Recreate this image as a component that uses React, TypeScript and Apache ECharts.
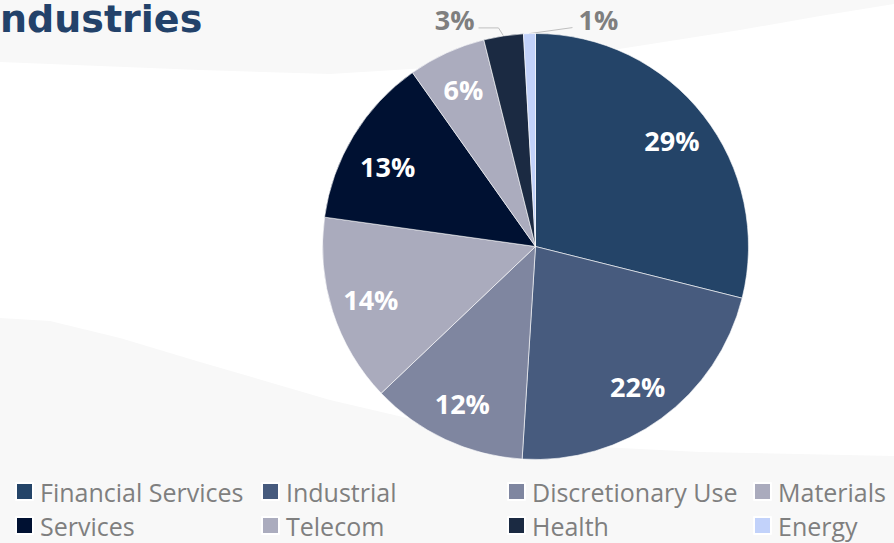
import React, { useEffect, useRef } from "react";
import * as echarts from "echarts";

const titleText = "ndustries";
const categories = [
  "Financial Services",
  "Industrial",
  "Discretionary Use",
  "Materials",
  "Services",
  "Telecom",
  "Health",
  "Energy",
];
const shares = [28.9, 22.1, 11.9, 14.3, 13.0, 5.9, 3.0, 0.9];
const sliceColors = [
  "#244468",
  "#475B7E",
  "#7F86A0",
  "#AAABBD",
  "#001132",
  "#ABACBE",
  "#1B2A42",
  "#C2D2FA",
];
const outsideLabelIdx = [6, 7];
const legendColumns = [
  [0, 4],
  [1, 5],
  [2, 6],
  [3, 7],
];

export default function App() {
  const ref = useRef<HTMLDivElement>(null);
  useEffect(() => {
    if (!ref.current) return;
    const chart = echarts.init(ref.current, undefined, { renderer: "svg" });
    const cx = 535.5;
    const cy = 246.5;
    const R = 213;

    const mainData = categories.map((name, i) => {
      const outside = outsideLabelIdx.includes(i);
      return {
        name,
        value: shares[i],
        itemStyle: { color: sliceColors[i] },
        label: { show: outside },
        labelLine: { show: outside },
      };
    });
    const overlayData = categories.map((name, i) => ({
      name,
      value: shares[i],
      label: { show: !outsideLabelIdx.includes(i) },
    }));

    const legendCols = [15, 261, 507, 753];

    chart.setOption({
      animation: false,
      backgroundColor: "#ffffff",
      title: {
        text: titleText,
        left: 0,
        top: 0,
        padding: 0,
        textStyle: {
          fontFamily: "DejaVu Sans",
          fontWeight: "bold",
          fontSize: 38,
          color: "#23426A",
        },
      },
      graphic: [
        {
          type: "polygon",
          z: -10,
          silent: true,
          shape: {
            points: [
              [0, 0],
              [894, 0],
              [894, 4],
              [820, 16],
              [740, 30],
              [600, 52],
              [460, 66],
              [330, 74],
              [200, 70],
              [100, 66],
              [0, 62],
            ],
          },
          style: { fill: "#F8F8F8" },
        },
        {
          type: "polygon",
          z: -10,
          silent: true,
          shape: {
            points: [
              [0, 318],
              [50, 321],
              [120, 338],
              [200, 362],
              [330, 400],
              [450, 428],
              [560, 445],
              [700, 452],
              [894, 456],
              [894, 543],
              [0, 543],
            ],
          },
          style: { fill: "#F8F8F8" },
        },
      ],
      legend: legendColumns.map((col, k) => ({
        data: col.map((i) => categories[i]),
        orient: "vertical",
        left: legendCols[k],
        top: 479,
        padding: 0,
        itemWidth: 17,
        itemHeight: 17,
        itemGap: 9,
        icon: "rect",
        selectedMode: false,
        textStyle: {
          fontFamily: "Open Sans",
          fontSize: 25,
          color: "#7F7F7F",
          lineHeight: 20,
          padding: [0, 0, 0, 2],
        },
      })),
      series: [
        {
          type: "pie",
          name: "main",
          center: [cx, cy],
          radius: [0, R],
          startAngle: 90,
          clockwise: true,
          percentPrecision: 0,
          avoidLabelOverlap: false,
          itemStyle: { borderColor: "#ffffff", borderWidth: 0.6 },
          emphasis: { disabled: true },
          label: {
            position: "outside",
            formatter: "{d}%",
            fontFamily: "Open Sans",
            fontWeight: "bold",
            fontSize: 27,
            color: "#7F7F7F",
          },
          labelLine: {
            lineStyle: { color: "#BFBFBF", width: 1 },
          },
          labelLayout: (p: any) => {
            const pts = p.labelLinePoints;
            if (!pts) return {};
            const [x0, y0] = pts[0];
            if (p.dataIndex === 6) {
              return {
                x: x0 - 29,
                y: y0 - 16,
                align: "right",
                verticalAlign: "middle",
                labelLinePoints: [
                  [x0, y0],
                  [x0 - 5, y0 - 8],
                  [x0 - 25, y0 - 8],
                ],
              };
            }
            if (p.dataIndex === 7) {
              return {
                x: x0 + 49,
                y: y0 - 14,
                align: "left",
                verticalAlign: "middle",
                labelLinePoints: [
                  [x0, y0],
                  [x0 + 43, y0 - 6],
                  [x0 + 43, y0 - 6],
                ],
              };
            }
            return {};
          },
          data: mainData,
        },
        {
          type: "pie",
          name: "labels",
          center: [cx, cy],
          radius: [127, R],
          startAngle: 90,
          clockwise: true,
          percentPrecision: 0,
          silent: true,
          legendHoverLink: false,
          itemStyle: { color: "rgba(0,0,0,0)" },
          emphasis: { disabled: true },
          label: {
            position: "inside",
            formatter: "{d}%",
            fontFamily: "Open Sans",
            fontWeight: "bold",
            fontSize: 27,
            color: "#ffffff",
          },
          labelLine: { show: false },
          labelLayout: (p: any) => (p.dataIndex === 4 ? { dy: 10 } : {}),
          data: overlayData,
        },
      ],
    });
    return () => chart.dispose();
  }, []);
  return (
    <div
      ref={ref}
      style={{ position: "absolute", left: 0, top: 0, width: 894, height: 543 }}
    />
  );
}
